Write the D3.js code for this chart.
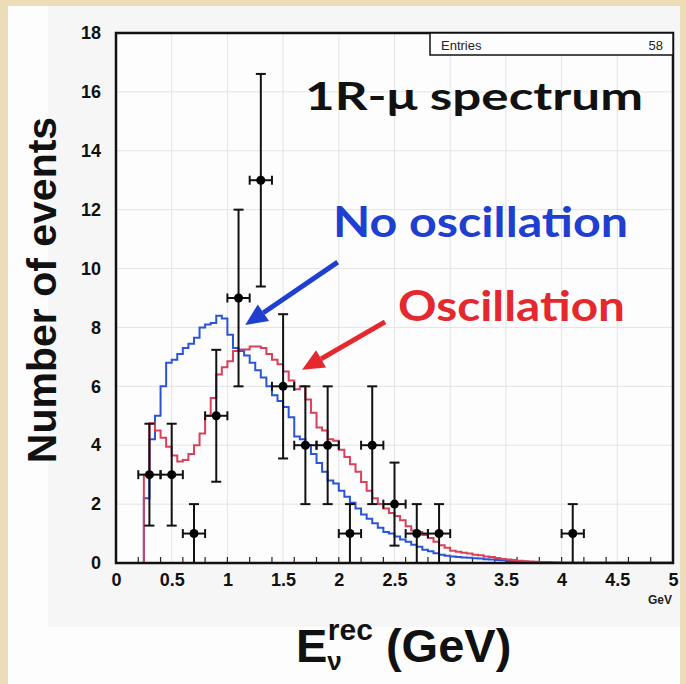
<!DOCTYPE html>
<html>
<head>
<meta charset="utf-8">
<script src="https://cdn.jsdelivr.net/npm/d3@7"></script>
<style>
  body { margin: 0; background: #ecdcb8; }
  svg { display: block; }
</style>
</head>
<body>
<div id="chart"></div>
<script>
// histogram binning (GeV)
const binLo = 0.25;
const binW = 0.05;

// MC expectation, no oscillation (blue), one value per 0.05 GeV bin from 0.25
const noOsc = [2.2, 4.2, 5.0, 6.0, 6.8, 6.9, 7.1, 7.3, 7.45, 7.65,
  8.0, 8.1, 8.15, 8.4, 8.3, 7.75, 7.3, 7.2, 7.05, 6.8,
  6.55, 6.3, 6.0, 5.7, 5.5, 5.3, 4.95, 4.3, 4.2, 4.0,
  3.7, 3.4, 3.1, 2.8, 2.7, 2.45, 2.25, 2.05, 1.85, 1.65,
  1.5, 1.35, 1.2, 1.05, 1.0, 0.9, 0.8, 0.72, 0.62, 0.55,
  0.45, 0.4, 0.33, 0.28, 0.25, 0.22, 0.2, 0.19, 0.18, 0.16,
  0.15, 0.13, 0.12, 0.1, 0.09, 0.07, 0.06, 0.05, 0.04, 0.03,
  0.03, 0.02, 0.02, 0.02, 0.01, 0.01, 0.01, 0.01, 0.01, 0.01,
  0.01, 0.01, 0.01, 0.01, 0.01, 0.01, 0.01, 0.01, 0.01, 0.01,
  0.01, 0.01, 0.01, 0.01, 0.01];

// MC expectation with oscillation (red)
const osc = [3.0, 4.75, 4.5, 4.25, 3.95, 3.65, 3.45, 3.5, 3.7, 4.0,
  4.4, 5.0, 5.6, 6.4, 6.65, 6.85, 7.2, 7.25, 7.25, 7.35,
  7.35, 7.3, 7.1, 6.9, 6.75, 6.5, 6.2, 5.9, 6.0, 5.55,
  5.1, 4.6, 4.5, 4.2, 4.15, 3.85, 3.6, 3.35, 3.1, 2.75,
  2.45, 2.2, 2.0, 1.85, 1.7, 1.6, 1.45, 1.25, 1.1, 1.05,
  0.95, 0.85, 0.72, 0.6, 0.52, 0.42, 0.38, 0.35, 0.32, 0.28,
  0.26, 0.22, 0.2, 0.17, 0.14, 0.12, 0.1, 0.08, 0.06, 0.05,
  0.04, 0.03, 0.03, 0.02, 0.02, 0.01, 0.01, 0.01, 0.01, 0.01,
  0.01, 0.01, 0.01, 0.01, 0.01, 0.01, 0.01, 0.01, 0.01, 0.01,
  0.01, 0.01, 0.01, 0.01, 0.01];

// data points (58 entries)
const dataE = [0.3, 0.5, 0.7, 0.9, 1.1, 1.3, 1.5, 1.7, 1.9, 2.1, 2.3, 2.5, 2.7, 2.9, 4.1];
const dataN = [3, 3, 1, 5, 9, 13, 6, 4, 4, 1, 4, 2, 1, 1, 1];
const dataErr = [1.73, 1.73, 1, 2.24, 3, 3.61, 2.45, 2, 2, 1, 2, 1.41, 1, 1, 1];
const dataXErr = 0.1;

const xTicks = [0, 0.5, 1, 1.5, 2, 2.5, 3, 3.5, 4, 4.5, 5];
const yTicks = [0, 2, 4, 6, 8, 10, 12, 14, 16, 18];
const entries = 58;

const W = 686, H = 684;
const svg = d3.select("#chart").append("svg")
  .attr("width", W)
  .attr("height", H);

// slide panel
svg.append("rect").attr("x", 8).attr("y", 6).attr("width", 672).attr("height", 678)
  .attr("fill", "#fdfdfd");
svg.append("rect").attr("x", 48).attr("y", 6).attr("width", 632).attr("height", 621)
  .attr("fill", "#f6f6f6");

let x = d3.scaleLinear().domain([0, 5]).range([116, 673]);
let y = d3.scaleLinear().domain([0, 18]).range([563, 33]);

svg.append("rect")
  .attr("x", x(0)).attr("y", y(18))
  .attr("width", x(5) - x(0)).attr("height", y(0) - y(18))
  .attr("fill", "#fdfdfd");

// grid
svg.append("g").selectAll("line")
  .data(xTicks.slice(1, -1))
  .enter().append("line")
  .attr("x1", d => x(d)).attr("x2", d => x(d))
  .attr("y1", y(0)).attr("y2", y(18))
  .attr("stroke", "#e4e4e4").attr("stroke-width", 1);

svg.append("g").selectAll("line")
  .data(yTicks.slice(1, -1))
  .enter().append("line")
  .attr("y1", d => y(d)).attr("y2", d => y(d))
  .attr("x1", x(0)).attr("x2", x(5))
  .attr("stroke", "#e4e4e4").attr("stroke-width", 1);

// axes
let xAxis = d3.axisBottom(x).tickValues(xTicks).tickSize(0).tickPadding(10)
  .tickFormat(d => d3.format("")(d));
let yAxis = d3.axisLeft(y).tickValues(yTicks).tickSize(0).tickPadding(15);

let gx = svg.append("g").attr("transform", "translate(0," + y(0) + ")").call(xAxis);
let gy = svg.append("g").attr("transform", "translate(" + x(0) + ",0)").call(yAxis);
[gx, gy].forEach(g => {
  g.select(".domain").remove();
  g.selectAll("text")
    .style("font-family", "'Liberation Sans', Arial, sans-serif")
    .style("font-weight", "bold")
    .style("font-size", "18px")
    .attr("fill", "#111");
});

// minor ticks on x
svg.append("g").selectAll("line")
  .data(d3.range(1, 25).map(i => i * 0.2))
  .enter().append("line")
  .attr("x1", d => x(d)).attr("x2", d => x(d))
  .attr("y1", y(0)).attr("y2", y(0) - 6)
  .attr("stroke", "#222").attr("stroke-width", 1.2);

// histograms
function steps(vals) {
  let pts = [[binLo, 0]];
  vals.forEach((v, i) => pts.push([binLo + i * binW, v]));
  pts.push([binLo + vals.length * binW, vals[vals.length - 1]]);
  return pts;
}
let line = d3.line()
  .x(d => x(d[0]))
  .y(d => y(d[1]))
  .curve(d3.curveStepAfter);

svg.append("path").datum(steps(noOsc))
  .attr("d", line).attr("fill", "none")
  .attr("stroke", "#2a55d8").attr("stroke-width", 2);
svg.append("path").datum(steps(osc))
  .attr("d", line).attr("fill", "none")
  .attr("stroke", "#d9405a").attr("stroke-width", 2);

// data points with error bars
let pts = svg.append("g").selectAll("g")
  .data(dataE.map((e, i) => ({ e: e, n: dataN[i], err: dataErr[i] })))
  .enter().append("g");

pts.append("line")
  .attr("x1", d => x(d.e)).attr("x2", d => x(d.e))
  .attr("y1", d => y(d.n - d.err)).attr("y2", d => y(d.n + d.err))
  .attr("stroke", "#111").attr("stroke-width", 2);
pts.append("line")
  .attr("x1", d => x(d.e) - 5).attr("x2", d => x(d.e) + 5)
  .attr("y1", d => y(d.n + d.err)).attr("y2", d => y(d.n + d.err))
  .attr("stroke", "#111").attr("stroke-width", 2);
pts.append("line")
  .attr("x1", d => x(d.e) - 5).attr("x2", d => x(d.e) + 5)
  .attr("y1", d => y(d.n - d.err)).attr("y2", d => y(d.n - d.err))
  .attr("stroke", "#111").attr("stroke-width", 2);
pts.append("line")
  .attr("x1", d => x(d.e - dataXErr)).attr("x2", d => x(d.e + dataXErr))
  .attr("y1", d => y(d.n)).attr("y2", d => y(d.n))
  .attr("stroke", "#111").attr("stroke-width", 2);
[-1, 1].forEach(s => {
  pts.append("line")
    .attr("x1", d => x(d.e + s * dataXErr)).attr("x2", d => x(d.e + s * dataXErr))
    .attr("y1", d => y(d.n) - 4.5).attr("y2", d => y(d.n) + 4.5)
    .attr("stroke", "#111").attr("stroke-width", 2);
});
pts.append("circle")
  .attr("cx", d => x(d.e)).attr("cy", d => y(d.n))
  .attr("r", 4.5).attr("fill", "#000");

// frame
svg.append("rect")
  .attr("x", x(0)).attr("y", y(18))
  .attr("width", x(5) - x(0)).attr("height", y(0) - y(18))
  .attr("fill", "none").attr("stroke", "#111").attr("stroke-width", 2.5);

// stat box
svg.append("rect").attr("x", 430).attr("y", y(18)).attr("width", x(5) - 430).attr("height", 22)
  .attr("fill", "#fdfdfd").attr("stroke", "#111").attr("stroke-width", 1.5);
svg.append("text").attr("x", 441).attr("y", 50).text("Entries")
  .style("font-family", "'Liberation Sans', Arial, sans-serif").style("font-size", "13px")
  .attr("fill", "#222");
svg.append("text").attr("x", 663).attr("y", 50).attr("text-anchor", "end").text(entries)
  .style("font-family", "'Liberation Sans', Arial, sans-serif").style("font-size", "13px")
  .attr("fill", "#222");

// GeV unit
svg.append("text").attr("x", 672).attr("y", 604).attr("text-anchor", "end").text("GeV")
  .style("font-family", "'Liberation Sans', Arial, sans-serif").style("font-size", "12px")
  .style("font-weight", "bold").attr("fill", "#222");

// axis titles
svg.append("text")
  .attr("transform", "translate(56,290) rotate(-90)")
  .attr("text-anchor", "middle")
  .text("Number of events")
  .style("font-family", "'Liberation Sans', Arial, sans-serif")
  .style("font-size", "41px").style("font-weight", "bold").attr("fill", "#111");

let xl = svg.append("text").attr("x", 296).attr("y", 662)
  .style("font-family", "'Liberation Sans', Arial, sans-serif")
  .style("font-size", "47px").style("font-weight", "bold").attr("fill", "#111");
xl.append("tspan").text("E");
xl.append("tspan").attr("dy", 8).style("font-size", "26px").text("ν");
xl.append("tspan").attr("dx", -14).attr("dy", -30).style("font-size", "30px").text("rec");
xl.append("tspan").attr("dy", 22).text(" (GeV)");

// annotations
const comic = "'Comic Sans MS', Lato, 'Open Sans', sans-serif";
svg.append("text").attr("x", 305).attr("y", 110).text("1R-μ spectrum")
  .attr("textLength", 338).attr("lengthAdjust", "spacingAndGlyphs")
  .style("font-family", comic).style("font-size", "38px").style("font-weight", "bold")
  .attr("fill", "#111");
svg.append("text").attr("x", 333).attr("y", 237).text("No oscillation")
  .attr("textLength", 295).attr("lengthAdjust", "spacingAndGlyphs")
  .style("font-family", comic).style("font-size", "42px").style("font-weight", "bold")
  .attr("fill", "#1f3fd0");
svg.append("text").attr("x", 398).attr("y", 321).text("Oscillation")
  .attr("textLength", 227).attr("lengthAdjust", "spacingAndGlyphs")
  .style("font-family", comic).style("font-size", "42px").style("font-weight", "bold")
  .attr("fill", "#e5282e");

function arrow(from, to, color) {
  let x1 = x(from[0]), y1 = y(from[1]), x2 = x(to[0]), y2 = y(to[1]);
  let a = Math.atan2(y2 - y1, x2 - x1);
  let len = 22, hw = 10;
  let bx = x2 - len * Math.cos(a), by = y2 - len * Math.sin(a);
  svg.append("line").attr("x1", x1).attr("y1", y1).attr("x2", bx).attr("y2", by)
    .attr("stroke", color).attr("stroke-width", 5);
  svg.append("path")
    .attr("d", "M" + x2 + "," + y2 +
      "L" + (bx + hw * Math.sin(a)) + "," + (by - hw * Math.cos(a)) +
      "L" + (bx - hw * Math.sin(a)) + "," + (by + hw * Math.cos(a)) + "Z")
    .attr("fill", color);
}
arrow([1.99, 10.22], [1.16, 8.08], "#1f3fd0");
arrow([2.415, 8.19], [1.67, 6.56], "#e5282e");
</script>
</body>
</html>
